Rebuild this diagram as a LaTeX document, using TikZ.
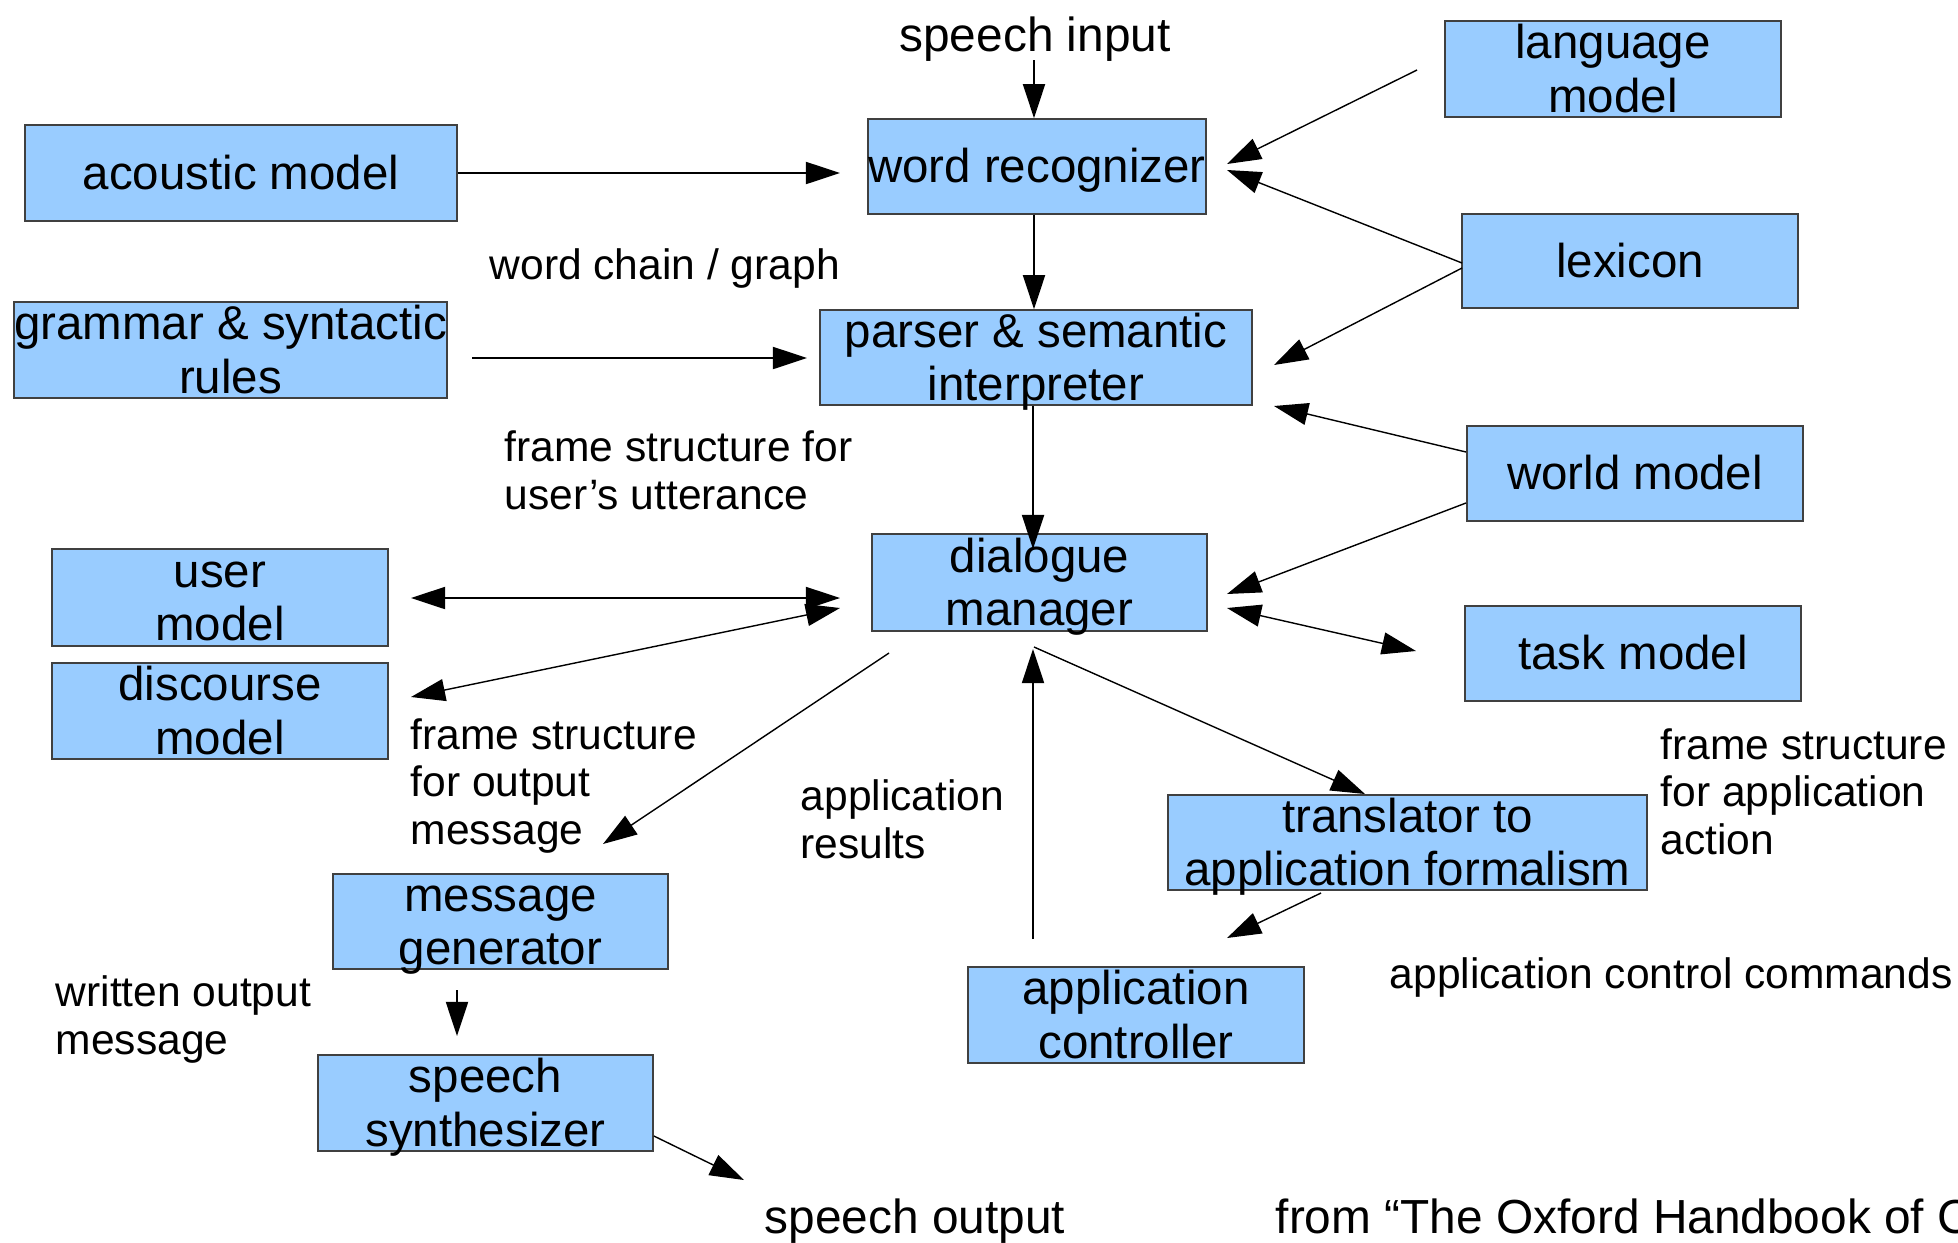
\documentclass[tikz,border=0pt]{standalone}
\usepackage{fontspec}
\setmainfont{Liberation Sans}
\usetikzlibrary{arrows.meta}
\definecolor{boxblue}{HTML}{99CCFF}
\newcommand\lostrut{\rule[-0.212em]{0pt}{1.117em}}
\begin{document}
\begin{tikzpicture}[x=0.01cm,y=-0.01cm,
  box/.style={draw=black!75, fill=boxblue, line width=0.45pt, inner xsep=0pt, inner ysep=-2pt, align=center,
    font=\fontsize{13.5pt}{15.12pt}\selectfont},
  lbl/.style={inner sep=0pt, align=left, anchor=west, font=\fontsize{12.1pt}{13.56pt}\selectfont},
  big/.style={inner sep=0pt, font=\fontsize{13.6pt}{15.2pt}\selectfont},
  conn/.style={line width=0.4pt, -{Triangle[length=9.7pt,width=6.3pt]}},
  both/.style={line width=0.4pt, {Triangle[length=9.7pt,width=6.3pt]}-{Triangle[length=9.7pt,width=6.3pt]}}]
\useasboundingbox (0,0) rectangle (1958,1242);
\clip (0,0) rectangle (1958,1242);

% boxes
\node[box, minimum width=3.36cm, minimum height=0.96cm] (lang) at (1613,69) {\lostrut language\\model\lostrut};
\node[box, minimum width=3.36cm, minimum height=0.95cm] (word) at (1037,166.5) {\lostrut word recognizer\lostrut};
\node[box, minimum width=4.32cm, minimum height=0.96cm] (acoustic) at (241,173) {\lostrut acoustic model\lostrut};
\node[box, minimum width=3.36cm, minimum height=0.94cm] (lexicon) at (1630,261) {\lostrut lexicon\lostrut};
\node[box, minimum width=4.33cm, minimum height=0.96cm] (grammar) at (230.5,350) {\lostrut grammar \& syntactic\\rules\lostrut};
\node[box, minimum width=4.32cm, minimum height=0.95cm] (parser) at (1036,357.5) {\lostrut parser \& semantic\\interpreter\lostrut};
\node[box, minimum width=3.36cm, minimum height=0.95cm] (world) at (1635,473.5) {\lostrut world model\lostrut};
\node[box, minimum width=3.35cm, minimum height=0.97cm] (dialogue) at (1039.5,582.5) {\lostrut dialogue\\manager\lostrut};
\node[box, minimum width=3.36cm, minimum height=0.97cm] (user) at (220,597.5) {\lostrut user\\model\lostrut};
\node[box, minimum width=3.36cm, minimum height=0.96cm] (discourse) at (220,711) {\lostrut discourse\\model\lostrut};
\node[box, minimum width=3.36cm, minimum height=0.95cm] (task) at (1633,653.5) {\lostrut task model\lostrut};
\node[box, minimum width=4.79cm, minimum height=0.95cm] (translator) at (1407.5,842.5) {\lostrut translator to\\application formalism\lostrut};
\node[box, minimum width=3.35cm, minimum height=0.95cm] (msggen) at (500.5,921.5) {\lostrut message\\generator\lostrut};
\node[box, minimum width=3.36cm, minimum height=0.96cm] (appctrl) at (1136,1015) {\lostrut application\\controller\lostrut};
\node[box, minimum width=3.35cm, minimum height=0.96cm] (synth) at (485.5,1103) {\lostrut speech\\synthesizer\lostrut};

% labels
\node[big] (sinput) at (1035,35) {\lostrut speech input\lostrut};
\node[lbl] (lchain) at (489,265) {\lostrut word chain / graph\lostrut};
\node[lbl] (lfsuser) at (504,471) {\lostrut frame structure for\\user’s utterance\lostrut};
\node[lbl] (lfsout) at (410,782) {\lostrut frame structure\\for output\\message\lostrut};
\node[lbl] (lappres) at (800,820) {\lostrut application\\results\lostrut};
\node[lbl] (lfsapp) at (1660,792) {\lostrut frame structure\\for application\\action\lostrut};
\node[lbl] (lctrl) at (1389,974) {\lostrut application control commands\lostrut};
\node[lbl] (lwritten) at (55,1016) {\lostrut written output\\message\lostrut};
\node[big, anchor=west] (soutput) at (764,1217) {\lostrut speech output\lostrut};
\node[big, anchor=west] (source) at (1275,1217) {\lostrut from “The Oxford Handbook of C\lostrut};

% free ends
\coordinate (a1) at (1034,60);
\coordinate (a2) at (840,173);
\coordinate (a4s) at (1417,70);
\coordinate (a4e) at (1227,164);
\coordinate (a5s) at (1462,263);
\coordinate (a5e) at (1227,170);
\coordinate (a6s) at (1462,268);
\coordinate (a6e) at (1274,365);
\coordinate (a7s) at (472,358);
\coordinate (a7e) at (807,358);
\coordinate (a8e) at (1033,549);
\coordinate (a9s) at (1466,452);
\coordinate (a9e) at (1274,406);
\coordinate (a10s) at (1466,503);
\coordinate (a10e) at (1227,594);
\coordinate (a11s) at (1227,608);
\coordinate (a11e) at (1416,651);
\coordinate (a12s) at (411,598);
\coordinate (a12e) at (840,598);
\coordinate (a13s) at (411,697);
\coordinate (a13e) at (840,608);
\coordinate (a14s) at (889,653);
\coordinate (a14e) at (603,844);
\coordinate (a15s) at (1033,939);
\coordinate (a15e) at (1033,649);
\coordinate (a16s) at (1034,647);
\coordinate (a16e) at (1365,794);
\coordinate (a17s) at (1321,893);
\coordinate (a17e) at (1227,938);
\coordinate (a18s) at (457,990);
\coordinate (a18e) at (457,1036);
\coordinate (a19e) at (744,1180);

% connectors
\draw[conn] (a1) -- (a1 |- word.north);
\draw[conn] (acoustic.east) -- (a2);
\draw[conn] (word.south -| a1) -- (parser.north -| a1);
\draw[conn] (a4s) -- (a4e);
\draw[conn] (a5s) -- (a5e);
\draw[conn] (a6s) -- (a6e);
\draw[conn] (a7s) -- (a7e);
\draw[conn] (parser.south -| a8e) -- (a8e);
\draw[conn] (a9s) -- (a9e);
\draw[conn] (a10s) -- (a10e);
\draw[both] (a11s) -- (a11e);
\draw[both] (a12s) -- (a12e);
\draw[both] (a13s) -- (a13e);
\draw[conn] (a14s) -- (a14e);
\draw[conn] (a15s) -- (a15e);
\draw[conn] (a16s) -- (a16e);
\draw[conn] (a17s) -- (a17e);
\draw[conn] (a18s) -- (a18e);
\draw[conn] (synth.east |- 652,1136) -- (a19e);
\end{tikzpicture}
\end{document}
